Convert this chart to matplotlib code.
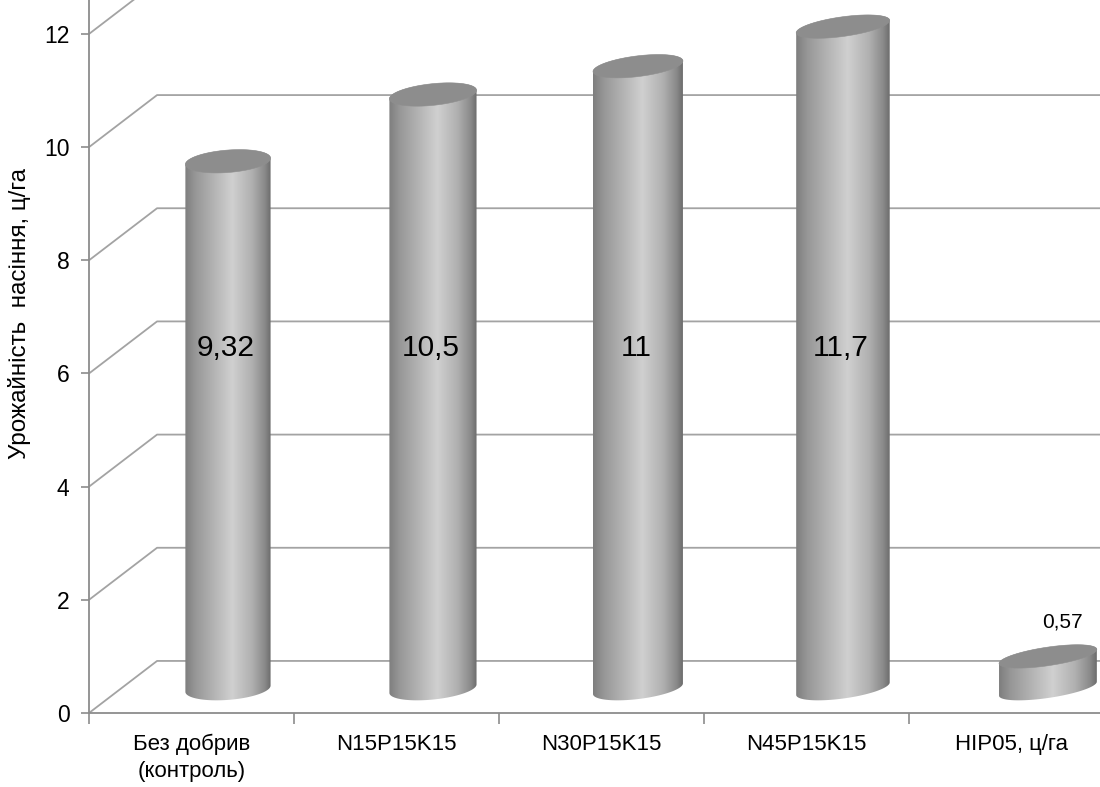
import numpy as np
import matplotlib
matplotlib.use("Agg")
import matplotlib.pyplot as plt
from matplotlib.patches import Polygon
from matplotlib.colors import LinearSegmentedColormap

# ---- data ----
categories = ["Без добрив\n(контроль)", "N15P15K15", "N30P15K15", "N45P15K15", "НІР05, ц/га"]
values = [9.32, 10.5, 11.0, 11.7, 0.57]
value_labels = ["9,32", "10,5", "11", "11,7", "0,57"]
y_ticks = [0, 2, 4, 6, 8, 10, 12]
y_label = "Урожайність  насіння, ц/га"

plt.rcParams["font.family"] = ["Liberation Sans", "DejaVu Sans"]

fig = plt.figure(figsize=(11, 7.87), dpi=100)
ax = fig.add_axes([89 / 1100, 74 / 787, 1011 / 1100, 713 / 787])
XMIN, XMAX = -0.5, 4.432
YMIN, YMAX = 0.0, 12.60

# oblique depth of the back wall (category units, value units)
DX, DY = 0.332, 0.92
# cylinder placement at mid depth
MX, MY = 0.178, 0.43
# cross-section ellipse: x-axis vector (EA, ED), depth vector (EB, EC)
EA, ED = 0.205, 0.022
EC = 0.205
EB_LEFT, EB_STEP = 0.034, 0.022

grid_col = "#a3a3a3"
axis_col = "#8c8c8c"

# back wall gridlines with the diagonal side-wall segment
for v in y_ticks:
    ax.plot([XMIN, XMIN + DX, XMAX], [v, v + DY, v + DY],
            color=grid_col, lw=1.3, zorder=1, solid_capstyle="butt")

body_cmap = LinearSegmentedColormap.from_list(
    "cyl", [(0.0, "#7e7e7e"), (0.12, "#979797"), (0.55, "#d0d0d0"),
            (0.78, "#b0b0b0"), (0.93, "#8a8a8a"), (1.0, "#6c6c6c")])


def ellipse_pts(cx, cy, eb, t):
    return np.column_stack([cx + EA * np.cos(t) + eb * np.sin(t),
                            cy + ED * np.cos(t) + EC * np.sin(t)])


for i, v in enumerate(values):
    eb = EB_LEFT + EB_STEP * i
    tr = np.arctan2(eb, EA)
    tl = tr + np.pi
    half_w = np.hypot(EA, eb)
    cx = i + MX
    base = MY
    top = v + MY
    front = np.linspace(tl, tr + 2 * np.pi, 120)
    back = np.linspace(tr, tl, 120)
    outline = np.vstack([ellipse_pts(cx, base, eb, front), ellipse_pts(cx, top, eb, back)])
    clip = Polygon(outline, closed=True, facecolor="none", edgecolor="none",
                   transform=ax.transData)
    ax.add_patch(clip)
    grad = np.linspace(0, 1, 256).reshape(1, -1)
    im = ax.imshow(grad, cmap=body_cmap, aspect="auto", interpolation="bilinear",
                   extent=[cx - half_w, cx + half_w, base - 0.3, top + 0.3],
                   zorder=3 + i * 0.1, origin="lower")
    im.set_clip_path(clip)
    # top face
    full = np.linspace(0, 2 * np.pi, 200)
    ax.add_patch(Polygon(ellipse_pts(cx, top, eb, full), closed=True,
                         facecolor="#8d8d8d", edgecolor="#8f8f8f", lw=0.4,
                         zorder=3.05 + i * 0.1))

# value labels
for i, (v, lab) in enumerate(zip(values, value_labels)):
    if v > 3:
        ax.text(i + MX - 0.01, 6.45, lab, ha="center", va="center",
                fontsize=21.5, color="black", zorder=10)
    else:
        ax.text(i + MX + 0.07, v + MY + 0.6, lab, ha="center", va="center",
                fontsize=15, color="black", zorder=10)

for s in ["top", "right"]:
    ax.spines[s].set_visible(False)
for s in ["left", "bottom"]:
    ax.spines[s].set_color(axis_col)
    ax.spines[s].set_linewidth(1.3)
    ax.spines[s].set_zorder(2)

ax.set_yticks(y_ticks)
ax.set_yticklabels([str(t) for t in y_ticks], fontsize=16.5)
ax.tick_params(axis="y", length=6, width=1.2, color=axis_col, pad=8)

ax.set_xticks(np.arange(len(categories)))
ax.set_xticklabels(categories, fontsize=16, linespacing=1.35)
ax.tick_params(axis="x", which="major", length=0, pad=15)
ax.set_xticks(np.arange(len(categories) + 1) - 0.5, minor=True)
ax.tick_params(axis="x", which="minor", length=8, width=1.2, color=axis_col)

ax.set_xlim(XMIN, XMAX)
ax.set_ylim(YMIN, YMAX)

fig.text(20 / 1100, 1 - 314 / 787, y_label, rotation=90, ha="center", va="center",
         fontsize=17.5)

fig.savefig("out.png", dpi=100)
